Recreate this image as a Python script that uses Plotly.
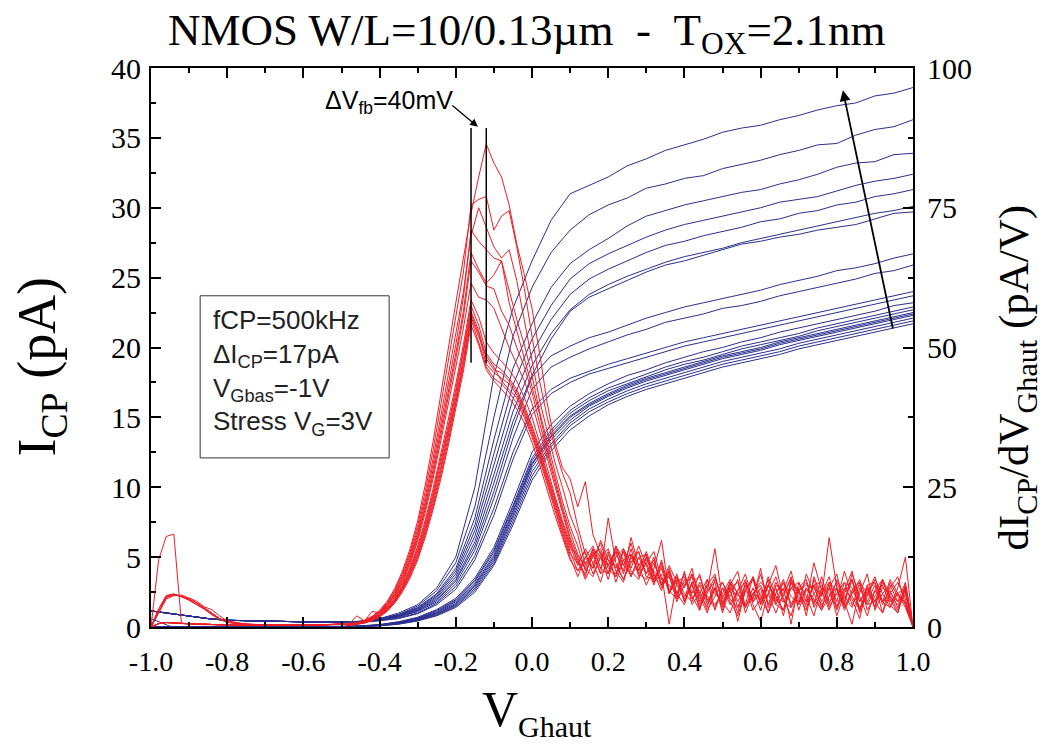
import plotly.graph_objects as go

# ---------------- blue curves: I_CP (left axis, pA) ----------------
v_blue_low = [-1.0, -0.95, -0.9, -0.85, -0.8, -0.7, -0.6, -0.5]
v_blue_high = [-0.45, -0.4, -0.35, -0.3, -0.25, -0.2, -0.15, -0.1, -0.05, 0.0,
               0.05, 0.1, 0.15, 0.2, 0.25, 0.3, 0.35, 0.4, 0.45, 0.5,
               0.55, 0.6, 0.65, 0.7, 0.75, 0.8, 0.85, 0.9, 0.95, 1.0]

icp_low_spread = [1.15, 0.95, 0.78, 0.6, 0.48, 0.4, 0.37, 0.37]
icp_low_bunch = [0.0, 0.0, 0.0, 0.0, 0.0, 0.01, 0.02, 0.03]
icp_low_bunch_blip = [0.6, 0.05, 0.0, 0.0, 0.0, 0.01, 0.02, 0.03]

icp_a1 = [0.4, 0.6, 1.0, 1.6, 2.8, 5.0, 10.0, 18.0, 22.8, 26.2, 29.1, 31.0, 31.6, 32.2, 33.0, 33.5, 34.1, 34.5, 34.9, 35.4, 35.7, 35.9, 36.3, 36.6, 37.0, 37.3, 37.5, 38.0, 38.2, 38.6]
icp_a2 = [0.4, 0.6, 0.9, 1.5, 2.6, 4.6, 8.6, 15.0, 20.8, 24.3, 26.8, 28.4, 29.5, 30.2, 30.7, 31.4, 31.7, 32.1, 32.3, 32.8, 33.1, 33.4, 33.8, 34.1, 34.5, 34.6, 35.2, 35.6, 35.8, 36.3]
icp_a3 = [0.4, 0.55, 0.9, 1.4, 2.4, 4.2, 7.8, 13.4, 18.5, 21.7, 24.3, 26.0, 27.0, 27.8, 28.7, 29.4, 29.8, 30.2, 30.5, 30.8, 31.1, 31.3, 31.7, 32.0, 32.4, 32.9, 33.2, 33.3, 33.8, 33.9]
icp_a4 = [0.4, 0.55, 0.85, 1.35, 2.3, 4.0, 7.3, 12.4, 17.3, 20.6, 23.0, 24.9, 26.0, 26.7, 27.3, 27.9, 28.4, 28.8, 29.1, 29.4, 29.7, 30.0, 30.4, 30.6, 30.8, 31.2, 31.6, 31.9, 32.1, 32.4]
icp_a5 = [0.4, 0.55, 0.8, 1.3, 2.2, 3.8, 6.9, 11.6, 16.3, 19.6, 22.0, 23.8, 24.9, 25.6, 26.2, 26.8, 27.3, 27.6, 28.0, 28.3, 28.6, 29.0, 29.2, 29.6, 29.8, 30.2, 30.4, 30.8, 31.0, 31.3]
icp_a6 = [0.4, 0.5, 0.8, 1.25, 2.1, 3.6, 6.5, 10.9, 15.4, 18.7, 21.0, 22.7, 23.8, 24.5, 25.1, 25.6, 26.1, 26.5, 26.8, 27.1, 27.5, 27.8, 28.1, 28.4, 28.7, 29.0, 29.3, 29.6, 29.8, 30.1]
icp_a7 = [0.4, 0.5, 0.75, 1.2, 2.0, 3.4, 6.1, 10.3, 14.7, 18.0, 20.6, 22.6, 23.6, 24.2, 24.8, 25.4, 25.9, 26.2, 26.6, 27.0, 27.4, 27.6, 27.9, 28.1, 28.4, 28.6, 28.8, 29.2, 29.6, 29.7]
icp_a8 = [0.4, 0.5, 0.75, 1.15, 1.9, 3.3, 5.8, 9.7, 14.2, 17.9, 19.4, 20.1, 20.7, 21.1, 21.6, 22.1, 22.5, 22.9, 23.2, 23.5, 23.8, 24.1, 24.5, 24.8, 25.1, 25.5, 25.7, 26.0, 26.4, 26.7]
icp_a9 = [0.4, 0.5, 0.7, 1.1, 1.8, 3.1, 5.5, 9.2, 13.5, 17.0, 18.6, 19.3, 19.9, 20.4, 20.9, 21.3, 21.8, 22.1, 22.4, 22.8, 23.0, 23.3, 23.7, 24.0, 24.3, 24.6, 24.9, 25.3, 25.5, 25.9]
icp_a10 = [0.35, 0.45, 0.65, 1.0, 1.7, 2.9, 5.1, 8.5, 12.5, 15.6, 17.0, 17.8, 18.3, 18.8, 19.2, 19.6, 20.0, 20.4, 20.7, 21.0, 21.3, 21.6, 21.9, 22.2, 22.5, 22.8, 23.1, 23.4, 23.7, 24.0]
icp_a11 = [0.35, 0.45, 0.6, 0.95, 1.6, 2.7, 4.8, 8.0, 12.0, 15.2, 16.7, 17.5, 18.1, 18.5, 18.9, 19.3, 19.7, 20.1, 20.4, 20.7, 21.0, 21.3, 21.6, 21.9, 22.2, 22.5, 22.8, 23.1, 23.4, 23.7]

icp_b1 = [0.08, 0.18, 0.38, 0.7, 1.25, 2.05, 3.5, 5.7, 9.0, 12.5, 14.5, 15.8, 16.7, 17.4, 18.0, 18.4, 18.9, 19.3, 19.7, 20.0, 20.4, 20.7, 21.1, 21.4, 21.7, 22.0, 22.3, 22.6, 23.0, 23.2]
icp_b2 = [0.07, 0.16, 0.35, 0.65, 1.18, 1.95, 3.35, 5.5, 8.7, 12.1, 14.1, 15.5, 16.4, 17.1, 17.6, 18.1, 18.6, 19.0, 19.3, 19.7, 20.1, 20.4, 20.7, 21.0, 21.4, 21.7, 22.0, 22.3, 22.6, 22.9]
icp_b3 = [0.06, 0.15, 0.32, 0.62, 1.12, 1.88, 3.25, 5.35, 8.55, 11.9, 13.9, 15.3, 16.2, 16.9, 17.4, 17.9, 18.4, 18.8, 19.1, 19.5, 19.9, 20.2, 20.5, 20.8, 21.2, 21.5, 21.8, 22.1, 22.4, 22.7]
icp_b4 = [0.06, 0.14, 0.3, 0.58, 1.05, 1.8, 3.1, 5.15, 8.35, 11.7, 13.7, 15.1, 16.0, 16.7, 17.3, 17.8, 18.2, 18.6, 19.0, 19.4, 19.7, 20.0, 20.4, 20.7, 21.0, 21.3, 21.6, 21.9, 22.2, 22.5]
icp_b5 = [0.05, 0.12, 0.28, 0.55, 1.0, 1.7, 3.0, 5.0, 8.2, 11.6, 13.6, 15.0, 15.9, 16.6, 17.2, 17.7, 18.1, 18.5, 18.9, 19.3, 19.6, 19.9, 20.3, 20.6, 20.9, 21.2, 21.5, 21.8, 22.1, 22.4]
icp_b6 = [0.05, 0.11, 0.26, 0.52, 0.95, 1.62, 2.9, 4.85, 8.0, 11.4, 13.4, 14.8, 15.8, 16.5, 17.1, 17.6, 18.0, 18.4, 18.8, 19.2, 19.5, 19.8, 20.2, 20.5, 20.8, 21.1, 21.4, 21.7, 22.0, 22.3]
icp_b7 = [0.04, 0.1, 0.24, 0.49, 0.9, 1.55, 2.78, 4.7, 7.8, 11.1, 13.1, 14.6, 15.6, 16.3, 16.9, 17.4, 17.8, 18.2, 18.6, 19.0, 19.3, 19.6, 19.9, 20.3, 20.6, 20.9, 21.2, 21.5, 21.8, 22.1]
icp_b8 = [0.03, 0.09, 0.22, 0.46, 0.85, 1.48, 2.65, 4.55, 7.55, 10.8, 12.9, 14.4, 15.4, 16.1, 16.7, 17.2, 17.6, 18.0, 18.4, 18.8, 19.1, 19.4, 19.7, 20.1, 20.4, 20.7, 21.0, 21.3, 21.6, 21.9]
icp_b9 = [0.02, 0.08, 0.2, 0.43, 0.8, 1.4, 2.5, 4.4, 7.3, 10.5, 12.6, 14.1, 15.1, 15.9, 16.5, 17.0, 17.4, 17.8, 18.2, 18.6, 18.9, 19.2, 19.5, 19.9, 20.2, 20.5, 20.8, 21.1, 21.4, 21.7]

# ---------------- red curves: dI_CP/dV (right axis, pA/V) ----------------
v_red_low = [-1.0, -0.98, -0.96, -0.94, -0.92, -0.9, -0.88, -0.86, -0.84, -0.82, -0.8,
             -0.75, -0.7, -0.65, -0.6, -0.55, -0.5]
v_red_mid = [-0.48, -0.46, -0.44, -0.42, -0.4, -0.38, -0.36, -0.34, -0.32, -0.3,
             -0.28, -0.26, -0.24, -0.22, -0.2, -0.18, -0.16, -0.14, -0.12, -0.1,
             -0.08, -0.06, -0.04, -0.02, 0.0, 0.02, 0.04, 0.06, 0.08, 0.1]
v_red_tail = [0.12, 0.14, 0.16, 0.18, 0.2, 0.22, 0.24, 0.26, 0.28, 0.3,
              0.32, 0.34, 0.36, 0.38, 0.4, 0.42, 0.44, 0.46, 0.48, 0.5,
              0.52, 0.54, 0.56, 0.58, 0.6, 0.62, 0.64, 0.66, 0.68, 0.7,
              0.72, 0.74, 0.76, 0.78, 0.8, 0.82, 0.84, 0.86, 0.88, 0.9,
              0.92, 0.94, 0.96, 0.98, 1.0]

dicp_low_flat = [0.0, 0.6, 0.8, 0.7, 0.6, 0.6, 0.5, 0.5, 0.4, 0.4, 0.4, 0.3, 0.3, 0.3, 0.3, 0.4, 0.5]
dicp_low_bump_a = [0.0, 2.8, 5.3, 5.8, 5.5, 5.0, 4.3, 3.4, 2.4, 1.5, 0.9, 0.4, 0.3, 0.3, 0.3, 0.4, 0.5]
dicp_low_bump_b = [0.0, 3.2, 5.6, 5.9, 5.4, 4.8, 4.0, 3.2, 2.2, 1.4, 0.8, 0.5, 0.3, 0.3, 0.4, 0.4, 0.5]
dicp_low_bump_c = [0.0, 2.5, 5.0, 5.6, 5.7, 5.2, 4.6, 3.6, 3.1, 2.0, 1.1, 0.5, 0.4, 0.3, 0.3, 0.3, 0.5]
dicp_low_spike = [0.0, 12.0, 16.2, 16.6, 0.6, 0.5, 0.5, 0.4, 0.4, 0.4, 0.4, 0.3, 0.3, 0.3, 0.3, 0.4, 0.5]

dicp_r1 = [0.5, 0.8, 1.2, 1.9, 3.0, 4.6, 6.9, 10.0, 14.0, 19.0, 25.5, 33.0, 41.5, 50.0, 58.0, 66.0, 74.0, 80.5, 86.4, 83.0, 80.5, 75.5, 68.5, 63.0, 57.0, 49.0, 40.0, 33.0, 28.5, 26.5]
dicp_r2 = [0.5, 0.7, 1.1, 1.8, 2.8, 4.4, 6.6, 9.6, 13.4, 18.2, 24.3, 31.5, 39.5, 47.5, 55.5, 63.5, 75.5, 76.5, 77.0, 71.0, 73.5, 74.5, 68.0, 60.5, 52.0, 44.0, 37.5, 32.0, 27.5, 24.0]
dicp_r3 = [0.5, 2.0, 1.1, 1.7, 2.7, 4.2, 6.3, 9.2, 12.9, 17.5, 23.3, 30.0, 37.5, 45.0, 52.5, 60.0, 70.0, 75.0, 71.5, 68.0, 66.0, 67.5, 62.0, 55.0, 47.5, 40.5, 35.0, 29.5, 25.0, 20.0]
dicp_r4 = [0.5, 0.7, 1.0, 1.6, 2.6, 4.0, 6.0, 8.8, 12.4, 16.9, 22.5, 29.0, 36.0, 43.0, 50.5, 59.0, 71.0, 69.0, 67.5, 66.0, 65.5, 60.0, 55.0, 50.5, 45.0, 38.5, 33.0, 27.5, 22.5, 18.0]
dicp_r5 = [0.5, 0.7, 1.0, 2.8, 2.5, 3.9, 5.8, 8.5, 12.0, 16.4, 21.8, 28.0, 34.8, 41.8, 49.0, 56.5, 67.0, 64.0, 61.5, 63.0, 65.5, 58.0, 53.0, 48.5, 43.5, 38.0, 32.0, 26.5, 21.5, 17.0]
dicp_r6 = [0.5, 0.7, 1.0, 1.5, 2.4, 3.8, 5.6, 8.2, 11.6, 15.9, 21.2, 27.2, 34.0, 41.0, 48.0, 55.5, 65.5, 63.5, 61.0, 60.5, 56.5, 54.0, 50.0, 46.5, 42.0, 36.5, 31.0, 26.0, 21.0, 16.0]
dicp_r7 = [0.4, 0.6, 0.9, 1.5, 2.3, 3.6, 5.4, 7.9, 11.2, 15.4, 20.5, 26.4, 33.0, 39.8, 46.5, 53.5, 61.5, 59.0, 58.5, 57.0, 53.5, 50.0, 47.0, 44.0, 40.0, 35.0, 30.0, 25.0, 20.0, 15.5]
dicp_r8 = [0.4, 0.6, 0.9, 1.4, 2.2, 3.4, 5.1, 7.5, 10.6, 14.5, 19.2, 24.6, 30.6, 37.0, 43.5, 50.5, 58.5, 55.5, 51.0, 49.0, 47.5, 46.0, 44.0, 41.0, 37.5, 33.0, 28.5, 23.5, 19.0, 15.0]
dicp_r9 = [0.4, 0.6, 0.9, 1.4, 2.1, 3.3, 5.0, 7.3, 10.3, 14.0, 18.6, 23.9, 29.8, 36.0, 42.5, 49.5, 57.5, 54.0, 49.0, 47.0, 46.0, 44.5, 42.5, 39.5, 36.0, 32.0, 27.5, 23.0, 18.5, 14.5]
dicp_r10 = [0.4, 0.6, 0.8, 1.3, 2.1, 3.2, 4.8, 7.1, 10.0, 13.6, 18.1, 23.3, 29.1, 35.3, 41.8, 48.8, 56.5, 53.0, 48.0, 46.0, 45.5, 44.0, 42.0, 39.0, 35.5, 31.5, 27.0, 22.5, 18.0, 14.0]
dicp_r11 = [0.4, 0.5, 0.8, 1.3, 2.0, 3.1, 4.7, 6.9, 9.7, 13.2, 17.6, 22.7, 28.4, 34.6, 41.0, 48.0, 56.0, 52.5, 47.0, 45.5, 44.5, 43.5, 41.5, 38.5, 35.0, 31.0, 26.5, 22.0, 17.5, 13.5]
dicp_r12 = [0.4, 0.5, 0.8, 1.2, 2.0, 3.0, 4.6, 6.7, 9.4, 12.8, 17.1, 22.1, 27.7, 33.9, 40.3, 47.3, 55.5, 52.0, 48.5, 46.5, 44.0, 42.5, 41.0, 38.0, 34.5, 30.5, 26.0, 21.5, 17.0, 13.0]
dicp_r13 = [0.3, 0.5, 0.7, 1.2, 1.9, 2.9, 4.4, 6.5, 9.1, 12.4, 16.6, 21.5, 27.0, 33.2, 39.6, 46.6, 55.0, 51.0, 46.5, 44.5, 43.5, 42.0, 40.0, 37.5, 34.0, 30.0, 25.5, 21.0, 16.5, 12.5]
dicp_r14 = [0.3, 0.5, 0.7, 1.1, 1.8, 2.8, 4.3, 6.3, 8.8, 12.0, 16.1, 20.9, 26.3, 32.4, 38.8, 45.8, 54.0, 50.5, 46.0, 44.0, 42.5, 41.0, 39.0, 36.5, 33.0, 29.0, 24.5, 20.0, 16.0, 12.0]

tail_r1 = [21.5, 26.0, 16.5, 13.0, 9.5, 14.5, 11.0, 15.0, 10.0, 12.5, 8.5, 11.5, 6.0, 9.0, 4.5, 8.0, 3.0, 7.5, 9.5, 4.0, 6.5, 2.5, 8.0, 5.0, 10.5, 3.5, 6.0, 8.5, 4.0, 7.0, 2.0, 9.0, 5.5, 7.5, 3.0, 6.5, 10.0, 4.5, 7.0, 3.5, 8.5, 5.0, 2.5, 7.5, 0.0]
tail_r2 = [18.0, 13.0, 10.5, 15.5, 12.0, 9.0, 14.0, 11.5, 13.5, 9.5, 12.0, 7.5, 10.0, 5.5, 8.5, 6.0, 9.5, 4.5, 7.0, 3.0, 8.0, 6.0, 4.0, 9.0, 5.5, 2.5, 7.5, 6.5, 10.0, 4.5, 7.0, 5.0, 3.0, 8.0, 6.5, 4.0, 9.5, 5.5, 2.0, 6.5, 4.5, 8.5, 6.0, 3.5, 0.0]
tail_r3 = [16.5, 11.0, 14.0, 12.5, 8.5, 13.5, 10.0, 16.0, 11.0, 13.0, 9.0, 7.5, 11.0, 8.0, 5.0, 9.5, 6.0, 3.5, 8.5, 5.5, 7.0, 1.0, 6.5, 9.0, 4.0, 7.5, 5.0, 3.0, 8.0, 6.0, 4.5, 11.5, 6.5, 3.0, 7.0, 5.0, 8.5, 2.5, 6.0, 9.0, 4.5, 6.5, 3.5, 6.0, 0.0]
tail_r4 = [14.5, 10.0, 12.5, 15.0, 11.0, 9.5, 13.5, 10.5, 14.5, 11.0, 7.5, 12.0, 6.5, 9.0, 7.0, 10.5, 4.5, 6.5, 14.0, 5.0, 8.0, 3.5, 6.5, 5.0, 9.5, 4.0, 7.0, 2.0, 8.5, 6.0, 4.0, 7.5, 5.5, 16.0, 7.0, 3.0, 6.0, 8.5, 4.5, 7.5, 2.5, 6.0, 8.0, 5.0, 0.0]
tail_r5 = [13.0, 10.5, 13.5, 9.5, 19.5, 11.5, 8.5, 12.5, 10.0, 13.5, 9.5, 6.5, 10.5, 6.0, 9.5, 5.5, 3.0, 8.5, 6.5, 4.0, 7.5, 10.0, 3.5, 6.0, 5.0, 7.5, 11.0, 5.0, 2.0, 7.0, 8.5, 3.5, 6.0, 8.0, 4.5, 10.0, 5.5, 3.0, 7.5, 4.5, 8.5, 5.5, 3.0, 7.5, 0.0]
tail_r6 = [12.5, 9.0, 14.0, 10.5, 13.5, 8.0, 12.0, 13.0, 9.5, 11.5, 13.5, 8.5, 9.0, 5.0, 7.5, 9.0, 4.0, 6.5, 8.0, 2.5, 7.0, 5.5, 8.5, 4.0, 1.0, 6.0, 9.0, 4.5, 7.0, 5.5, 3.0, 8.5, 4.5, 7.0, 9.5, 3.5, 6.5, 8.0, 3.0, 5.5, 7.5, 4.0, 2.5, 7.0, 0.0]
tail_r7 = [11.5, 13.5, 9.5, 12.5, 14.0, 10.0, 8.0, 13.0, 11.0, 7.5, 10.5, 15.5, 6.0, 9.5, 4.5, 8.0, 6.5, 3.0, 5.5, 8.0, 4.5, 2.0, 6.5, 8.5, 4.0, 9.0, 5.5, 3.0, 8.0, 4.0, 6.5, 7.5, 3.5, 7.0, 2.0, 6.0, 8.5, 4.5, 7.0, 3.5, 8.0, 5.5, 4.0, 6.5, 0.0]
tail_r8 = [12.0, 8.5, 11.5, 13.5, 9.5, 14.5, 12.0, 9.0, 12.5, 13.0, 8.0, 9.5, 0.5, 8.0, 9.0, 5.0, 7.5, 4.0, 7.0, 3.5, 8.0, 4.5, 7.5, 3.0, 5.0, 8.5, 4.0, 7.0, 0.5, 8.0, 4.5, 7.5, 8.0, 3.5, 6.0, 4.5, 8.5, 3.0, 6.5, 8.0, 4.0, 7.0, 9.0, 4.0, 0.0]
tail_r9 = [11.0, 14.0, 11.5, 8.0, 13.0, 10.5, 13.5, 9.0, 12.5, 9.5, 12.5, 7.0, 10.0, 6.0, 4.0, 8.0, 9.0, 5.0, 3.5, 7.0, 5.5, 8.5, 2.5, 6.0, 7.5, 4.0, 8.0, 5.5, 9.0, 3.0, 7.0, 4.5, 6.0, 9.0, 3.5, 7.0, 5.0, 1.5, 7.5, 8.0, 4.5, 3.5, 7.0, 12.5, 0.0]
tail_r10 = [13.0, 10.5, 9.0, 12.5, 11.0, 13.5, 9.5, 14.0, 9.0, 11.5, 8.0, 11.0, 6.5, 5.0, 10.0, 4.0, 6.0, 8.5, 3.0, 7.0, 4.0, 6.5, 9.5, 4.5, 7.0, 2.5, 6.0, 8.0, 5.5, 4.0, 9.5, 6.0, 3.0, 5.5, 8.0, 4.5, 0.5, 7.0, 4.0, 6.5, 8.5, 4.5, 6.0, 4.0, 0.0]
tail_r11 = [10.0, 12.5, 14.5, 10.5, 9.5, 12.5, 14.0, 10.0, 8.5, 12.5, 9.5, 8.0, 9.0, 7.5, 5.5, 7.5, 3.5, 6.0, 9.0, 4.5, 7.0, 8.0, 3.5, 7.0, 3.0, 7.5, 4.5, 8.0, 3.5, 6.5, 8.0, 4.0, 9.0, 4.5, 6.0, 8.0, 4.0, 6.0, 9.5, 3.0, 6.0, 7.5, 4.5, 8.0, 0.0]
tail_r12 = [11.5, 9.5, 13.0, 14.0, 10.5, 9.0, 12.0, 13.0, 9.5, 8.5, 11.5, 7.5, 9.5, 4.5, 7.5, 9.5, 5.5, 2.5, 7.0, 8.0, 5.0, 3.5, 7.0, 8.5, 4.5, 6.0, 2.5, 6.0, 8.5, 6.5, 3.5, 6.0, 7.5, 4.0, 8.5, 5.5, 3.5, 8.0, 6.0, 4.5, 2.5, 8.0, 5.5, 4.5, 0.0]
tail_r13 = [9.0, 12.5, 10.5, 13.0, 12.0, 11.0, 8.5, 11.5, 13.5, 9.0, 8.5, 10.5, 6.0, 8.5, 6.0, 4.5, 8.0, 5.5, 4.0, 6.0, 8.5, 6.0, 3.5, 6.0, 8.0, 6.5, 4.0, 3.0, 7.0, 8.0, 5.5, 2.0, 7.0, 6.0, 3.5, 8.0, 7.0, 3.5, 5.5, 8.5, 6.0, 3.5, 6.0, 7.0, 0.0]
tail_r14 = [10.0, 11.5, 13.0, 9.5, 11.0, 14.0, 11.0, 9.5, 11.0, 12.0, 10.0, 8.5, 7.5, 6.0, 8.0, 6.5, 5.0, 7.5, 6.0, 4.5, 2.5, 6.5, 8.0, 4.5, 6.0, 7.5, 5.5, 4.5, 3.5, 6.5, 7.5, 7.0, 4.0, 5.5, 7.0, 3.5, 6.0, 7.5, 4.0, 4.5, 7.0, 6.0, 4.5, 6.5, 0.0]

# annotation data
vfb_lines = [-0.16, -0.12]          # V positions of the two flat-band markers
vfb_line_span = [18.9, 35.7]        # I_CP span of the markers
x_tick_vals = [-1.0, -0.8, -0.6, -0.4, -0.2, 0.0, 0.2, 0.4, 0.6, 0.8, 1.0]
x_tick_text = ["-1.0", "-0.8", "-0.6", "-0.4", "-0.2", "0.0", "0.2", "0.4", "0.6", "0.8", "1.0"]

BLUE = "#2b2f8e"
RED = "#ee1c25"
SERIF = "Liberation Serif"
SANS = "Liberation Sans"

blue_curves = [
    (icp_low_spread, icp_a1), (icp_low_spread, icp_a2), (icp_low_spread, icp_a3),
    (icp_low_spread, icp_a4), (icp_low_spread, icp_a5), (icp_low_spread, icp_a6),
    (icp_low_spread, icp_a7), (icp_low_spread, icp_a8), (icp_low_spread, icp_a9),
    (icp_low_spread, icp_a10), (icp_low_spread, icp_a11),
    (icp_low_bunch, icp_b1), (icp_low_bunch, icp_b2), (icp_low_bunch, icp_b3),
    (icp_low_bunch, icp_b4), (icp_low_bunch, icp_b5), (icp_low_bunch, icp_b6),
    (icp_low_bunch, icp_b7), (icp_low_bunch, icp_b8), (icp_low_bunch_blip, icp_b9),
]
red_curves = [
    (dicp_low_flat, dicp_r1, tail_r1), (dicp_low_flat, dicp_r2, tail_r2),
    (dicp_low_bump_a, dicp_r3, tail_r3), (dicp_low_flat, dicp_r4, tail_r4),
    (dicp_low_bump_b, dicp_r5, tail_r5), (dicp_low_flat, dicp_r6, tail_r6),
    (dicp_low_spike, dicp_r7, tail_r7), (dicp_low_bump_a, dicp_r8, tail_r8),
    (dicp_low_bump_c, dicp_r9, tail_r9), (dicp_low_flat, dicp_r10, tail_r10),
    (dicp_low_bump_b, dicp_r11, tail_r11), (dicp_low_flat, dicp_r12, tail_r12),
    (dicp_low_bump_a, dicp_r13, tail_r13), (dicp_low_flat, dicp_r14, tail_r14),
]

fig = go.Figure()
for low, high in blue_curves:
    ys = low + high
    xs = (v_blue_low + v_blue_high)[:len(ys)]
    fig.add_trace(go.Scatter(x=xs, y=ys, mode="lines",
                             line=dict(color=BLUE, width=1), yaxis="y", hoverinfo="skip"))
for low, mid, tail in red_curves:
    ys = low + mid + tail
    xs = (v_red_low + v_red_mid + v_red_tail)[:len(ys)]
    fig.add_trace(go.Scatter(x=xs, y=ys, mode="lines", line=dict(color=RED, width=1),
                             yaxis="y2", hoverinfo="skip"))

xtickfont = dict(family=SERIF, size=28, color="black")
ytickfont = dict(family=SERIF, size=30, color="black")
fig.update_layout(
    width=1048, height=753,
    margin=dict(l=151, r=135, t=68, b=126),
    paper_bgcolor="white", plot_bgcolor="white",
    showlegend=False,
    xaxis=dict(range=[-1, 1], tickmode="array", tickvals=x_tick_vals, ticktext=x_tick_text,
               ticks="inside", ticklen=10, tickwidth=2, tickcolor="black",
               showline=True, linewidth=2, linecolor="black", mirror="ticks",
               showgrid=False, zeroline=False, tickfont=xtickfont, ticklabelstandoff=8,
               minor=dict(tickmode="linear", tick0=-1, dtick=0.1, ticks="inside",
                          ticklen=5, tickwidth=2, tickcolor="black", showgrid=False)),
    yaxis=dict(range=[0, 40], tickmode="linear", tick0=0, dtick=5,
               ticks="inside", ticklen=10, tickwidth=2, tickcolor="black",
               showline=True, linewidth=2, linecolor="black", mirror=False,
               showgrid=False, zeroline=False, tickfont=ytickfont, ticklabelstandoff=2,
               minor=dict(tickmode="linear", tick0=0, dtick=2.5, ticks="inside",
                          ticklen=5, tickwidth=2, tickcolor="black", showgrid=False)),
    yaxis2=dict(range=[0, 100], tickmode="linear", tick0=0, dtick=25, overlaying="y",
                side="right", ticks="inside", ticklen=10, tickwidth=2, tickcolor="black",
                showline=True, linewidth=2, linecolor="black",
                showgrid=False, zeroline=False, tickfont=ytickfont, ticklabelstandoff=6,
                minor=dict(tickmode="linear", tick0=0, dtick=12.5, ticks="inside",
                           ticklen=5, tickwidth=2, tickcolor="black", showgrid=False)),
)

# flat-band marker lines
for v in vfb_lines:
    fig.add_shape(type="line", xref="x", yref="y", x0=v, x1=v,
                  y0=vfb_line_span[0], y1=vfb_line_span[1],
                  line=dict(color="black", width=1.5))

# parameter box
fig.add_shape(type="rect", xref="x", yref="y", x0=-0.871, x1=-0.375, y0=12.1, y1=23.7,
              line=dict(color="#333333", width=1), fillcolor="rgba(0,0,0,0)")
fig.add_annotation(xref="x", yref="y", x=-0.842, y=23.2, xanchor="left", yanchor="top",
                   align="left", showarrow=False,
                   text="fCP=500kHz<br>ΔI<sub>CP</sub>=17pA<br>V<sub>Gbas</sub>=-1V<br>Stress V<sub>G</sub>=3V",
                   font=dict(family=SANS, size=26, color="#222222"))

# delta V_fb label and arrow
fig.add_annotation(xref="x", yref="y", x=-0.203, y=37.6, xanchor="right", yanchor="middle",
                   showarrow=False, text="ΔV<sub>fb</sub>=40mV",
                   font=dict(family=SANS, size=25, color="black"))
fig.add_annotation(xref="x", yref="y", x=-0.142, y=35.8, ax=-0.213, ay=37.4,
                   axref="x", ayref="y", showarrow=True, arrowhead=2, arrowsize=1.2,
                   arrowwidth=1.3, arrowcolor="black", text="")

# trend arrow
fig.add_annotation(xref="x", yref="y", x=0.816, y=38.4, ax=0.948, ay=21.25,
                   axref="x", ayref="y", showarrow=True, arrowhead=2, arrowsize=1.2,
                   arrowwidth=1.8, arrowcolor="black", text="")

# titles
fig.add_annotation(xref="paper", yref="paper", x=0.493, y=1.063, xanchor="center",
                   yanchor="middle", showarrow=False,
                   text="NMOS W/L=10/0.13µm\u00a0\u00a0-\u00a0\u00a0T<sub>OX</sub>=2.1nm",
                   font=dict(family=SERIF, size=45, color="black"))
fig.add_annotation(xref="paper", yref="paper", x=-0.145, y=0.465, xanchor="center",
                   yanchor="middle", textangle=-90, showarrow=False,
                   text="I<sub>CP</sub> (pA)", font=dict(family=SERIF, size=54, color="black"))
fig.add_annotation(xref="paper", yref="paper", x=1.137, y=0.447, xanchor="center",
                   yanchor="middle", textangle=-90, showarrow=False,
                   text="dI<sub>CP</sub>/dV<sub>Ghaut</sub> (pA/V)",
                   font=dict(family=SERIF, size=43, color="black"))
fig.add_annotation(xref="paper", yref="paper", x=0.506, y=-0.152, xanchor="center",
                   yanchor="middle", showarrow=False,
                   text="V<sub><span style='font-size:30px'>Ghaut</span></sub>",
                   font=dict(family=SERIF, size=50, color="black"))

fig.write_html("out.html", config={"displayModeBar": False},
               post_script="document.body.style.margin='0px';")
